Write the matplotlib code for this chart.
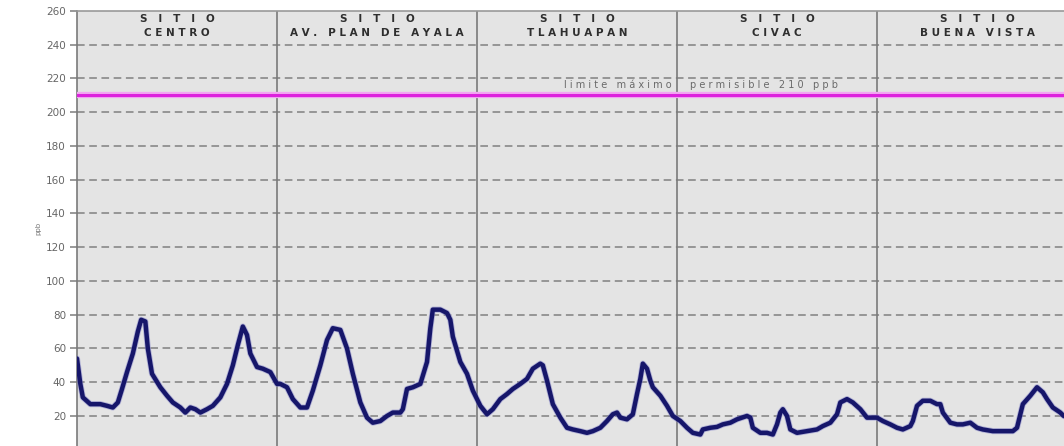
import numpy as np
import matplotlib.pyplot as plt

# hours across the five sites (24 h per site) and ozone concentration in ppb
horas = [0, 0.4, 0.7, 1.6, 2.8, 3.6, 4.3, 4.9, 5.4, 6.0, 6.7, 7.3, 7.7, 8.2, 8.5,
         9.0, 10.0, 10.8, 11.5, 12.4, 13.0, 13.6, 14.2, 14.8, 15.6, 16.3, 17.2,
         18.0, 18.7, 19.3, 19.9, 20.4, 20.8, 21.6, 22.3, 23.2, 24.0,
         24.4, 25.2, 25.9, 26.8, 27.6, 28.3, 29.2, 30.0, 30.7, 31.6, 32.4, 33.1,
         34.0, 34.8, 35.5, 36.4, 37.2, 37.9, 38.8, 39.1, 39.6, 40.3, 41.2, 42.0,
         42.4, 42.7, 43.6, 44.4, 44.8, 45.1, 46.0, 46.8, 47.5,
         48.4, 49.2, 49.9, 50.8, 51.6, 52.3, 53.2, 54.0, 54.7, 55.6, 55.9, 56.4,
         57.1, 58.0, 58.8, 59.5, 60.4, 61.2, 61.9, 62.8, 63.6, 64.3, 64.8, 65.2,
         66.0, 66.7, 67.2, 67.6, 67.9, 68.4, 68.8, 69.1, 70.0, 70.8, 71.5,
         72.4, 73.2, 73.9, 74.8, 75.1, 76.0, 76.8, 77.5, 78.4, 79.2, 80.4, 80.8,
         81.1, 82.0, 82.8, 83.5, 84.0, 84.4, 84.7, 85.2, 85.6, 86.4, 87.6, 88.8,
         89.5, 90.4, 91.2, 91.6, 92.4, 93.1, 94.0, 94.8, 95.5,
         96.0, 96.7, 97.6, 98.4, 99.1, 100.0, 100.3, 100.8, 101.5, 102.4, 103.2,
         103.6, 103.9, 104.8, 105.6, 106.3, 107.2, 108.0, 108.7, 109.9, 111.1,
         112.3, 112.8, 113.2, 113.5, 114.4, 115.2, 115.9, 116.4, 117.1, 118.0,
         118.4, 120.0]
ppb = [54, 39, 31, 27, 27, 26, 25, 28, 36, 46, 57, 70, 77, 76, 60,
       45, 37, 32, 28, 25, 22, 25, 24, 22, 24, 26, 31,
       39, 50, 62, 73, 68, 57, 49, 48, 46, 39,
       39, 37, 30, 25, 25, 35, 50, 65, 72, 71, 60, 45,
       28, 19, 16, 17, 20, 22, 22, 24, 36, 37, 39, 52,
       72, 83, 83, 81, 77, 67, 52, 45, 35,
       26, 21, 24, 30, 33, 36, 39, 42, 48, 51, 50, 41,
       27, 19, 13, 12, 11, 10, 11, 13, 17, 21, 22, 19,
       18, 21, 33, 42, 51, 48, 41, 37, 32, 26, 20,
       17, 13, 10, 9, 12, 13, 13.5, 15, 16, 18, 20, 19,
       13, 10, 10, 9, 15, 22, 24, 20, 12, 10, 11, 12,
       14, 16, 21, 28, 30, 28, 24, 19, 19,
       19, 17, 15, 13, 12, 14, 17, 26, 29, 29, 27,
       27, 22, 16, 15, 15, 16, 13, 12, 11, 11,
       11, 13, 21, 27, 32, 37, 34, 30, 25, 22,
       20, 18]

sitios = ["CENTRO", "AV. PLAN DE AYALA", "TLAHUAPAN", "CIVAC", "BUENA VISTA"]
horas_por_sitio = 24
limite = 210
y_ticks = list(range(0, 261, 20))


def espaciar(texto, gap=1, word_gap=3):
    # wide letter spacing like the original chart
    palabras = texto.split(" ")
    return (" " * word_gap).join((" " * gap).join(p) for p in palabras)


plt.rcParams['lines.scale_dashes'] = False

fig = plt.figure(figsize=(10.64, 4.46), dpi=100)
ax = fig.add_axes([77 / 1064, -3.7 / 446, 1000 / 1064, 438.7 / 446])
ax.set_facecolor('#e4e4e4')

ax.set_xlim(0, horas_por_sitio * len(sitios))
ax.set_ylim(0, 260)

# dashed horizontal grid
for y in y_ticks[1:-1]:
    ax.axhline(y, color='#959595', lw=1.4, dashes=(5.5, 3.3), zorder=1)

# site separators
for i in range(1, len(sitios)):
    ax.axvline(i * horas_por_sitio, color='#7a7a7a', lw=1.2, zorder=2)

# max permissible limit
ax.axhline(limite, color='#f2a8f2', lw=4.5, zorder=3)
ax.axhline(limite, color='#dd22dd', lw=2.2, zorder=4)

ax.plot(horas, ppb, color='#8080c8', lw=4.4, solid_capstyle='round',
        solid_joinstyle='round', zorder=5, alpha=0.5)
ax.plot(horas, ppb, color='#16166a', lw=3.2, solid_capstyle='round',
        solid_joinstyle='round', zorder=6)

# site titles
for i, nombre in enumerate(sitios):
    xc = (i + 0.5) * horas_por_sitio
    ax.text(xc, 1 - 8 / 438.7, espaciar("SITIO", gap=3), transform=ax.get_xaxis_transform(),
            ha='center', va='center', fontsize=7.5, fontweight='bold', color='#2e2e2e')
    ax.text(xc, 1 - 22 / 438.7, espaciar(nombre, gap=1, word_gap=3),
            transform=ax.get_xaxis_transform(),
            ha='center', va='center', fontsize=7.5, fontweight='bold', color='#2e2e2e')

ax.text(71.4, limite + 3.2, espaciar("limite máximo", gap=1, word_gap=3),
        ha='right', va='bottom', fontsize=7, color='#6a6a6a', zorder=7)
ax.text(73.6, limite + 3.2, espaciar("permisible 210 ppb", gap=1, word_gap=3),
        ha='left', va='bottom', fontsize=7, color='#6a6a6a', zorder=7)

ax.set_yticks(y_ticks)
ax.set_yticklabels([str(v) for v in y_ticks])
ax.set_xticks([])
ax.tick_params(axis='y', direction='out', length=5, width=1.2, color='#888888',
               labelsize=7.5, labelcolor='#666666', pad=3)

for side in ['left', 'top', 'right', 'bottom']:
    ax.spines[side].set_color('#7a7a7a')
    ax.spines[side].set_linewidth(1.2)
ax.spines['top'].set_color('#999999')

fig.text(38 / 1064, (446 - 228) / 446, "ppb", rotation=90, ha='center', va='center',
         fontsize=5, color='#777777')

plt.savefig("out.png", dpi=100)
